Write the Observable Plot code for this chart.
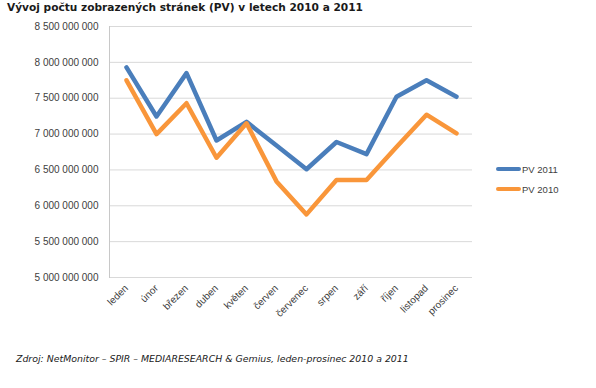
<!DOCTYPE html>
<html>
<head>
<meta charset="utf-8">
<script src="https://cdn.jsdelivr.net/npm/d3@7"></script>
<script src="https://cdn.jsdelivr.net/npm/@observablehq/plot@0.6"></script>
<style>
  html, body { margin: 0; padding: 0; background: #fff; }
  #wrap { position: relative; width: 596px; height: 388px; overflow: hidden; }
  #title { position: absolute; left: 7px; top: 1px; font-family: "DejaVu Sans", sans-serif; font-weight: bold; font-size: 10.6px; color: #1a1a1a; white-space: nowrap; }
  #caption { position: absolute; left: 16px; top: 353px; font-family: "DejaVu Sans", sans-serif; font-style: italic; font-size: 9.4px; color: #222; white-space: nowrap; }
  #legend { position: absolute; left: 496px; top: 159px; font-family: "Liberation Sans", sans-serif; font-size: 9.5px; color: #404040; }
  .li { display: flex; align-items: center; height: 20px; }
  .sw { width: 25px; height: 4px; border-radius: 2px; margin-right: 1px; }
  #chart { position: absolute; left: 0; top: 0; }
</style>
</head>
<body>
<div id="wrap">
  <div id="chart"></div>
  <div id="title">Vývoj počtu zobrazených stránek (PV) v letech 2010 a 2011</div>
  <div id="legend"></div>
  <div id="caption">Zdroj: NetMonitor – SPIR – MEDIARESEARCH &amp; Gemius, leden-prosinec 2010 a 2011</div>
</div>
<script>
const months = ["leden","únor","březen","duben","květen","červen","červenec","srpen","září","říjen","listopad","prosinec"];
const pv2011 = [7930000000,7245000000,7850000000,6910000000,7170000000,6840000000,6510000000,6890000000,6720000000,7520000000,7750000000,7520000000];
const pv2010 = [7750000000,7000000000,7430000000,6670000000,7150000000,6340000000,5880000000,6360000000,6360000000,6820000000,7270000000,7010000000];
const seriesNames = ["PV 2011","PV 2010"];
const seriesColors = ["#4A7EBB","#F9963A"];
const yTicks = [5000000000,5500000000,6000000000,6500000000,7000000000,7500000000,8000000000,8500000000];

const data = [];
[pv2011, pv2010].forEach((arr, s) => arr.forEach((v, i) => data.push({series: seriesNames[s], month: months[i], value: v})));

const fmt = d3.formatLocale({decimal: ",", thousands: "\u00a0", grouping: [3], currency: ["", ""]}).format(",d");

const chart = Plot.plot({
  width: 596,
  height: 388,
  marginTop: 26,
  marginBottom: 111,
  marginLeft: 109,
  marginRight: 124,
  style: {fontFamily: "Liberation Sans, sans-serif", fontSize: "10px", color: "#404040", background: "transparent"},
  x: {type: "point", domain: months, padding: 0.5, label: null},
  y: {domain: [5000000000, 8500000000], label: null},
  color: {domain: seriesNames, range: seriesColors},
  marks: [
    Plot.gridY(yTicks, {stroke: "#d9d9d9", strokeOpacity: 1, strokeWidth: 1}),
    Plot.frame({anchor: "left", stroke: "#c8c8c8", strokeWidth: 1}),
    Plot.axisY(yTicks, {tickSize: 0, tickPadding: 11, tickFormat: fmt, fill: "#404040"}),
    Plot.axisX({tickSize: 0, tickRotate: -45, tickPadding: 9, fill: "#404040"}),
    Plot.line(data, {x: "month", y: "value", z: "series", stroke: "series", strokeWidth: 4.5, strokeLinejoin: "round", strokeLinecap: "round"})
  ]
});
document.getElementById("chart").appendChild(chart);

const legend = document.getElementById("legend");
seriesNames.forEach((n, i) => {
  const row = document.createElement("div");
  row.className = "li";
  const sw = document.createElement("div");
  sw.className = "sw";
  sw.style.background = seriesColors[i];
  const t = document.createElement("span");
  t.textContent = n;
  row.appendChild(sw); row.appendChild(t);
  legend.appendChild(row);
});
</script>
</body>
</html>
